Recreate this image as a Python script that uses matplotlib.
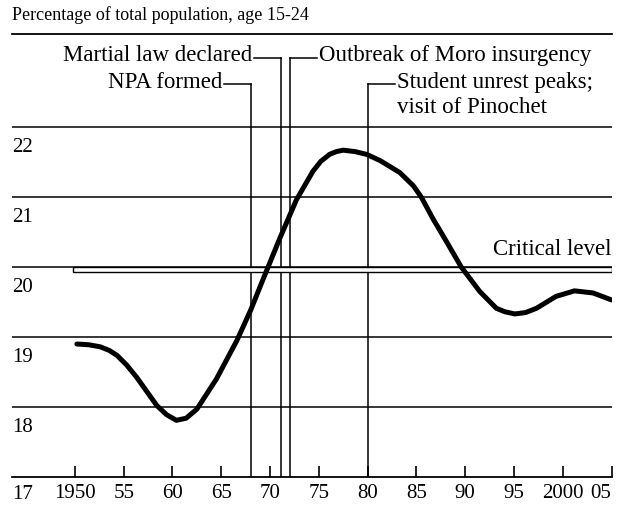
import matplotlib.pyplot as plt
from matplotlib.patches import Rectangle

plt.rcParams['font.family'] = ['Liberation Serif', 'DejaVu Serif']

# curve
years = [1950.2, 1951.4, 1952.6, 1953.5, 1954.3, 1955.3, 1956.3, 1958.4, 1959.4,
         1960.4, 1961.4, 1962.5, 1964.5, 1966.6, 1968.0, 1969.3, 1971.0, 1972.7,
         1974.4, 1975.2, 1976.1, 1976.8, 1977.5, 1978.7, 1979.9, 1981.3, 1983.3,
         1984.7, 1985.5, 1986.7, 1988.1, 1989.6, 1991.5, 1993.2, 1994.1, 1995.1,
         1996.2, 1997.3, 1999.3, 2001.2, 2003.1, 2005.0]
share = [18.90, 18.89, 18.86, 18.81, 18.74, 18.60, 18.43, 18.02, 17.89,
         17.81, 17.84, 17.97, 18.40, 18.95, 19.38, 19.83, 20.41, 20.96,
         21.37, 21.51, 21.61, 21.65, 21.67, 21.65, 21.61, 21.52, 21.35,
         21.16, 21.00, 20.69, 20.36, 20.00, 19.65, 19.41, 19.36, 19.33,
         19.35, 19.41, 19.58, 19.66, 19.63, 19.53]

tick_years = [1950, 1955, 1960, 1965, 1970, 1975, 1980, 1985, 1990, 1995, 2000, 2005]
tick_labels = ['1950', '55', '60', '65', '70', '75', '80', '85', '90', '95', '2000', '05']
y_levels = [18, 19, 20, 21, 22]

critical = 20.0

# events: year of line, top of line, label lines, side of the label
events = [
    (1968.0, 22.61, ['NPA formed'], 'left'),
    (1971.1, 22.99, ['Martial law declared'], 'left'),
    (1972.0, 22.99, ['Outbreak of Moro insurgency'], 'right'),
    (1980.0, 22.61, ['Student unrest peaks;', 'visit of Pinochet'], 'right'),
]

fig = plt.figure(figsize=(6.19, 5.06), dpi=100)
ax = fig.add_axes([12 / 619, 28 / 506, 600 / 619, 443 / 506])
ax.set_xlim(1943.55, 2005.05)
ax.set_ylim(17, 23.33)

for s in ['left', 'right']:
    ax.spines[s].set_visible(False)
ax.spines['bottom'].set_linewidth(1.3)
ax.spines['top'].set_linewidth(1.3)

ax.set_yticks([])
ax.set_xticks(tick_years)
ax.set_xticklabels(tick_labels, fontsize=15)
ax.get_xticklabels()[-1].set_horizontalalignment('right')
ax.tick_params(axis='x', direction='in', length=8, width=1.2, pad=4)

for lv in y_levels:
    ax.axhline(lv, color='black', lw=1.1)
    ax.text(1943.6, lv - 0.14, str(lv), fontsize=15, ha='left', va='top')
ax.text(1943.6, 16.9, '17', fontsize=15, ha='left', va='top')

# critical level band
ax.add_patch(Rectangle((1949.8, critical - 0.065), 2005.0 - 1949.8, 0.065,
                       facecolor='white', edgecolor='black', lw=1.0, zorder=3))
ax.text(2005.0, critical + 0.12, 'Critical level', fontsize=16.5,
        ha='right', va='bottom')

ax.plot(years, share, color='black', lw=3.6, solid_capstyle='round',
        solid_joinstyle='round', zorder=4)

line_step = 0.357
for yr, top, lines, side in events:
    ax.plot([yr, yr], [17, top], color='black', lw=1.1, zorder=2)
    if side == 'left':
        ax.plot([yr - 2.7, yr], [top, top], color='black', lw=1.1)
        tx, ha = yr - 2.9, 'right'
    else:
        ax.plot([yr, yr + 2.8], [top, top], color='black', lw=1.1)
        tx, ha = yr + 3.0, 'left'
    for i, line in enumerate(lines):
        ax.text(tx, top + 0.04 - i * line_step, line, fontsize=16.5,
                ha=ha, va='center')

fig.text(12 / 619, 1 - 15 / 506, 'Percentage of total population, age 15-24',
         fontsize=13, ha='left', va='center')

fig.savefig('out.png', dpi=100)
